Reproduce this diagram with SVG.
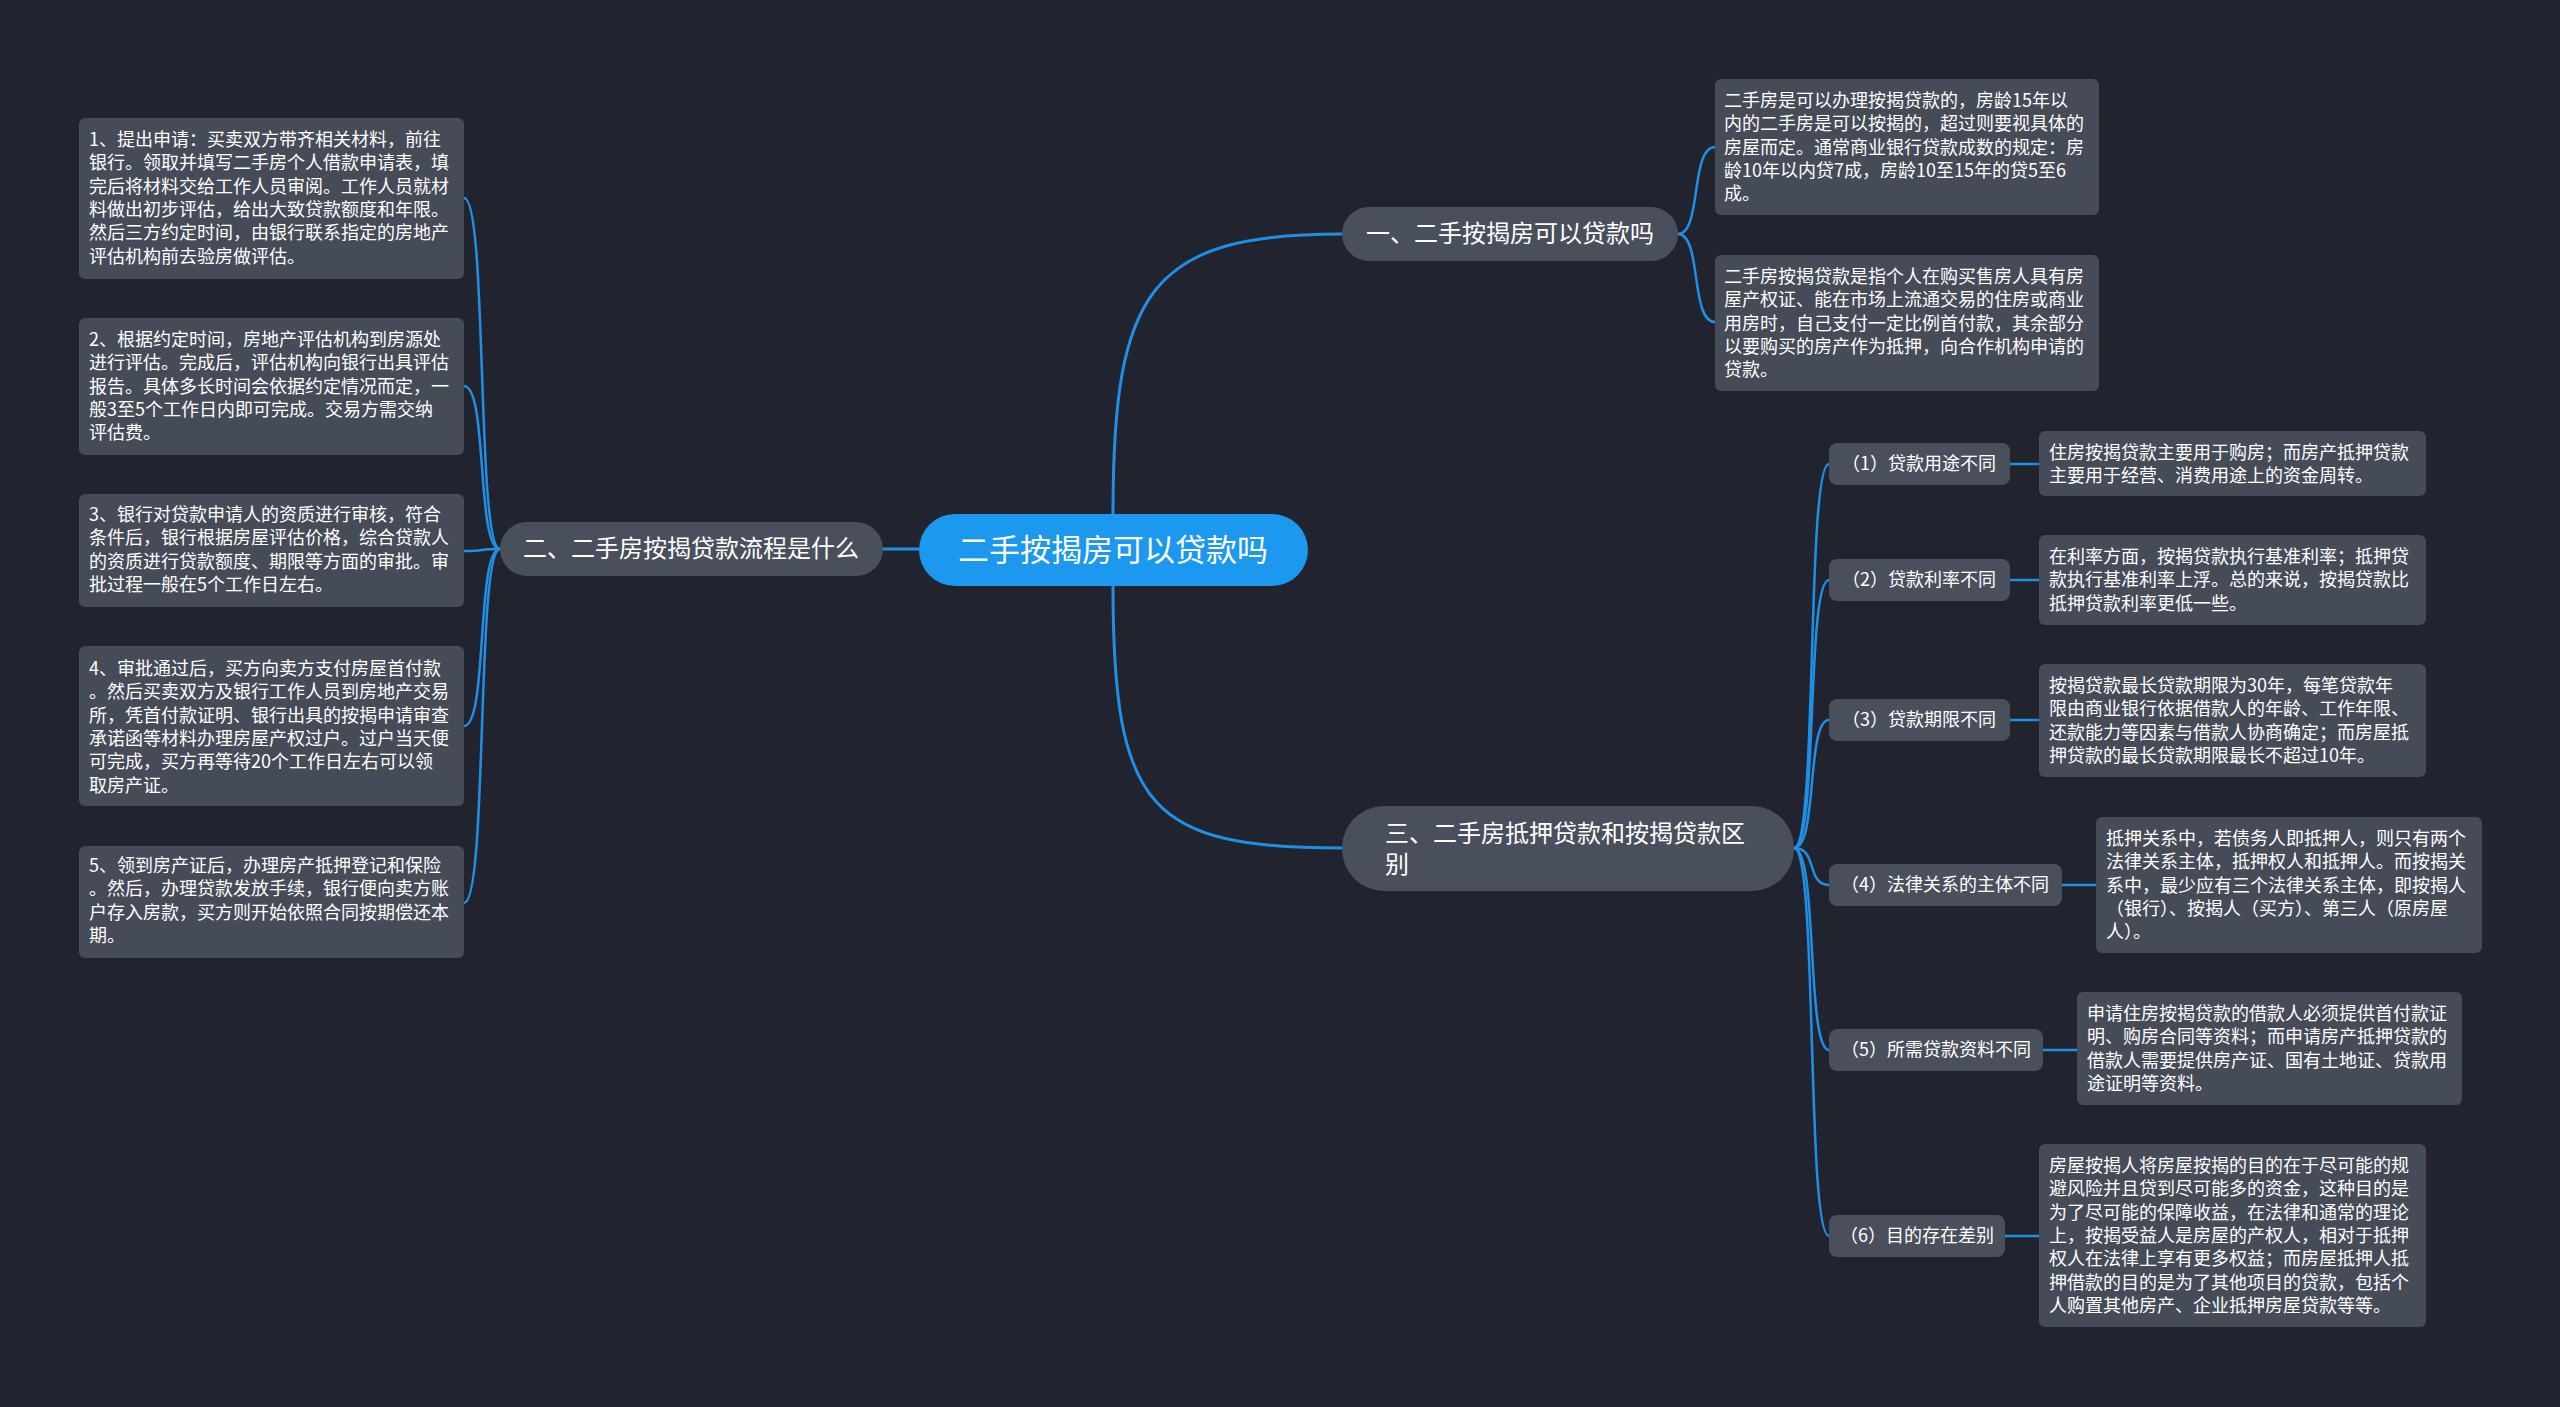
<svg xmlns="http://www.w3.org/2000/svg" width="2560" height="1407" viewBox="0 0 2560 1407">
<style>
text{font-family:"Noto Sans CJK SC","Noto Sans",sans-serif;fill:#ffffff}
.leaf{fill:#464b58}
.br{fill:#4a4f5c}
.lt{font-size:18px}
.bt{font-size:24px}
.st{font-size:18px}
.c{fill:none;stroke:#1f8fe6;stroke-width:3}
.c2{fill:none;stroke:#1f8fe6;stroke-width:2.5}
</style>
<rect width="2560" height="1407" fill="#21242e"/>
<g id="connectors">
<path class="c" d="M1113,514 C1113,290 1150,234 1342,234"/>
<path class="c" d="M1113,586 C1113,810 1150,848 1342,848"/>
<path class="c" d="M919,549 L883,549"/>
<path class="c2" d="M1678,234 C1702,234 1690,147 1715,147"/>
<path class="c2" d="M1678,234 C1702,234 1690,322 1715,322"/>
<path class="c2" d="M500,549 C476,549 488,198 464,198"/>
<path class="c2" d="M500,549 C476,549 488,386 464,386"/>
<path class="c2" d="M500,549 C476,549 488,551 464,551"/>
<path class="c2" d="M500,549 C476,549 488,726 464,726"/>
<path class="c2" d="M500,549 C476,549 488,903 464,903"/>
<path class="c2" d="M1794,848 C1818,848 1806,464 1829,464"/>
<path class="c2" d="M1794,848 C1818,848 1806,580 1829,580"/>
<path class="c2" d="M1794,848 C1818,848 1806,720 1829,720"/>
<path class="c2" d="M1794,848 C1818,848 1806,885 1829,885"/>
<path class="c2" d="M1794,848 C1818,848 1806,1050 1829,1050"/>
<path class="c2" d="M1794,848 C1818,848 1806,1236 1829,1236"/>
<path class="c2" d="M2010,464 L2039,464"/>
<path class="c2" d="M2010,580 L2039,580"/>
<path class="c2" d="M2010,720 L2039,720"/>
<path class="c2" d="M2062,885 L2096,885"/>
<path class="c2" d="M2043,1050 L2077,1050"/>
<path class="c2" d="M2005,1236 L2039,1236"/>
</g>
<g id="center">
<rect x="919" y="514" width="389" height="72" rx="36" fill="#1d98ef"/>
<text x="1113" y="561" font-size="31" text-anchor="middle">二手按揭房可以贷款吗</text>
</g>
<g id="b1">
<rect class="br" x="1342" y="207" width="336" height="54" rx="27"/>
<text class="bt" x="1510" y="242" text-anchor="middle">一、二手按揭房可以贷款吗</text>
</g>
<g id="b2">
<rect class="br" x="500" y="522" width="383" height="54" rx="27"/>
<text class="bt" x="691" y="557" text-anchor="middle">二、二手房按揭贷款流程是什么</text>
</g>
<g id="b3">
<rect class="br" x="1342" y="806" width="452" height="85" rx="42"/>
<text class="bt"><tspan x="1385" y="842">三、二手房抵押贷款和按揭贷款区</tspan><tspan x="1385" y="873">别</tspan></text>
</g>
<g id="l1">
<rect class="leaf" x="79" y="118" width="385" height="161" rx="6"/>
<text class="lt"><tspan x="89" y="146">1、提出申请：买卖双方带齐相关材料，前往</tspan><tspan x="89" y="169.3">银行。领取并填写二手房个人借款申请表，填</tspan><tspan x="89" y="192.6">完后将材料交给工作人员审阅。工作人员就材</tspan><tspan x="89" y="215.9">料做出初步评估，给出大致贷款额度和年限。</tspan><tspan x="89" y="239.2">然后三方约定时间，由银行联系指定的房地产</tspan><tspan x="89" y="262.5">评估机构前去验房做评估。</tspan></text>
</g>
<g id="l2">
<rect class="leaf" x="79" y="318" width="385" height="137" rx="6"/>
<text class="lt"><tspan x="89" y="346">2、根据约定时间，房地产评估机构到房源处</tspan><tspan x="89" y="369.3">进行评估。完成后，评估机构向银行出具评估</tspan><tspan x="89" y="392.6">报告。具体多长时间会依据约定情况而定，一</tspan><tspan x="89" y="415.9">般3至5个工作日内即可完成。交易方需交纳</tspan><tspan x="89" y="439.2">评估费。</tspan></text>
</g>
<g id="l3">
<rect class="leaf" x="79" y="494" width="385" height="113" rx="6"/>
<text class="lt"><tspan x="89" y="521">3、银行对贷款申请人的资质进行审核，符合</tspan><tspan x="89" y="544.3">条件后，银行根据房屋评估价格，综合贷款人</tspan><tspan x="89" y="567.6">的资质进行贷款额度、期限等方面的审批。审</tspan><tspan x="89" y="590.9">批过程一般在5个工作日左右。</tspan></text>
</g>
<g id="l4">
<rect class="leaf" x="79" y="646" width="385" height="160" rx="6"/>
<text class="lt"><tspan x="89" y="675">4、审批通过后，买方向卖方支付房屋首付款</tspan><tspan x="89" y="698.3">。然后买卖双方及银行工作人员到房地产交易</tspan><tspan x="89" y="721.6">所，凭首付款证明、银行出具的按揭申请审查</tspan><tspan x="89" y="744.9">承诺函等材料办理房屋产权过户。过户当天便</tspan><tspan x="89" y="768.2">可完成，买方再等待20个工作日左右可以领</tspan><tspan x="89" y="791.5">取房产证。</tspan></text>
</g>
<g id="l5">
<rect class="leaf" x="79" y="846" width="385" height="112" rx="6"/>
<text class="lt"><tspan x="89" y="872">5、领到房产证后，办理房产抵押登记和保险</tspan><tspan x="89" y="895.3">。然后，办理贷款发放手续，银行便向卖方账</tspan><tspan x="89" y="918.6">户存入房款，买方则开始依照合同按期偿还本</tspan><tspan x="89" y="941.9">期。</tspan></text>
</g>
<g id="rA">
<rect class="leaf" x="1715" y="79" width="384" height="136" rx="6"/>
<text class="lt"><tspan x="1724" y="107">二手房是可以办理按揭贷款的，房龄15年以</tspan><tspan x="1724" y="130.3">内的二手房是可以按揭的，超过则要视具体的</tspan><tspan x="1724" y="153.6">房屋而定。通常商业银行贷款成数的规定：房</tspan><tspan x="1724" y="176.9">龄10年以内贷7成，房龄10至15年的贷5至6</tspan><tspan x="1724" y="200.2">成。</tspan></text>
</g>
<g id="rB">
<rect class="leaf" x="1715" y="255" width="384" height="136" rx="6"/>
<text class="lt"><tspan x="1724" y="283">二手房按揭贷款是指个人在购买售房人具有房</tspan><tspan x="1724" y="306.3">屋产权证、能在市场上流通交易的住房或商业</tspan><tspan x="1724" y="329.6">用房时，自己支付一定比例首付款，其余部分</tspan><tspan x="1724" y="352.9">以要购买的房产作为抵押，向合作机构申请的</tspan><tspan x="1724" y="376.2">贷款。</tspan></text>
</g>
<g id="s1">
<rect class="br" x="1829" y="443" width="181" height="42" rx="8"/>
<text class="st" x="1919" y="470" text-anchor="middle">（1）贷款用途不同</text>
</g>
<g id="s2">
<rect class="br" x="1829" y="559" width="181" height="42" rx="8"/>
<text class="st" x="1919" y="586" text-anchor="middle">（2）贷款利率不同</text>
</g>
<g id="s3">
<rect class="br" x="1829" y="699" width="181" height="42" rx="8"/>
<text class="st" x="1919" y="726" text-anchor="middle">（3）贷款期限不同</text>
</g>
<g id="s4">
<rect class="br" x="1829" y="864" width="233" height="42" rx="8"/>
<text class="st" x="1945" y="891" text-anchor="middle">（4）法律关系的主体不同</text>
</g>
<g id="s5">
<rect class="br" x="1829" y="1029" width="214" height="42" rx="8"/>
<text class="st" x="1936" y="1056" text-anchor="middle">（5）所需贷款资料不同</text>
</g>
<g id="s6">
<rect class="br" x="1829" y="1215" width="176" height="42" rx="8"/>
<text class="st" x="1917" y="1242" text-anchor="middle">（6）目的存在差别</text>
</g>
<g id="d1">
<rect class="leaf" x="2039" y="431" width="387" height="65" rx="6"/>
<text class="lt"><tspan x="2049" y="459">住房按揭贷款主要用于购房；而房产抵押贷款</tspan><tspan x="2049" y="482.3">主要用于经营、消费用途上的资金周转。</tspan></text>
</g>
<g id="d2">
<rect class="leaf" x="2039" y="535" width="387" height="90" rx="6"/>
<text class="lt"><tspan x="2049" y="563">在利率方面，按揭贷款执行基准利率；抵押贷</tspan><tspan x="2049" y="586.3">款执行基准利率上浮。总的来说，按揭贷款比</tspan><tspan x="2049" y="609.6">抵押贷款利率更低一些。</tspan></text>
</g>
<g id="d3">
<rect class="leaf" x="2039" y="664" width="387" height="113" rx="6"/>
<text class="lt"><tspan x="2049" y="692">按揭贷款最长贷款期限为30年，每笔贷款年</tspan><tspan x="2049" y="715.3">限由商业银行依据借款人的年龄、工作年限、</tspan><tspan x="2049" y="738.6">还款能力等因素与借款人协商确定；而房屋抵</tspan><tspan x="2049" y="761.9">押贷款的最长贷款期限最长不超过10年。</tspan></text>
</g>
<g id="d4">
<rect class="leaf" x="2096" y="817" width="386" height="136" rx="6"/>
<text class="lt"><tspan x="2106" y="845">抵押关系中，若债务人即抵押人，则只有两个</tspan><tspan x="2106" y="868.3">法律关系主体，抵押权人和抵押人。而按揭关</tspan><tspan x="2106" y="891.6">系中，最少应有三个法律关系主体，即按揭人</tspan><tspan x="2106" y="914.9">（银行）、按揭人（买方）、第三人（原房屋</tspan><tspan x="2106" y="938.2">人）。</tspan></text>
</g>
<g id="d5">
<rect class="leaf" x="2077" y="992" width="385" height="113" rx="6"/>
<text class="lt"><tspan x="2087" y="1020">申请住房按揭贷款的借款人必须提供首付款证</tspan><tspan x="2087" y="1043.3">明、购房合同等资料；而申请房产抵押贷款的</tspan><tspan x="2087" y="1066.6">借款人需要提供房产证、国有土地证、贷款用</tspan><tspan x="2087" y="1089.9">途证明等资料。</tspan></text>
</g>
<g id="d6">
<rect class="leaf" x="2039" y="1144" width="387" height="183" rx="6"/>
<text class="lt"><tspan x="2049" y="1172">房屋按揭人将房屋按揭的目的在于尽可能的规</tspan><tspan x="2049" y="1195.3">避风险并且贷到尽可能多的资金，这种目的是</tspan><tspan x="2049" y="1218.6">为了尽可能的保障收益，在法律和通常的理论</tspan><tspan x="2049" y="1241.9">上，按揭受益人是房屋的产权人，相对于抵押</tspan><tspan x="2049" y="1265.2">权人在法律上享有更多权益；而房屋抵押人抵</tspan><tspan x="2049" y="1288.5">押借款的目的是为了其他项目的贷款，包括个</tspan><tspan x="2049" y="1311.8">人购置其他房产、企业抵押房屋贷款等等。</tspan></text>
</g>
</svg>
